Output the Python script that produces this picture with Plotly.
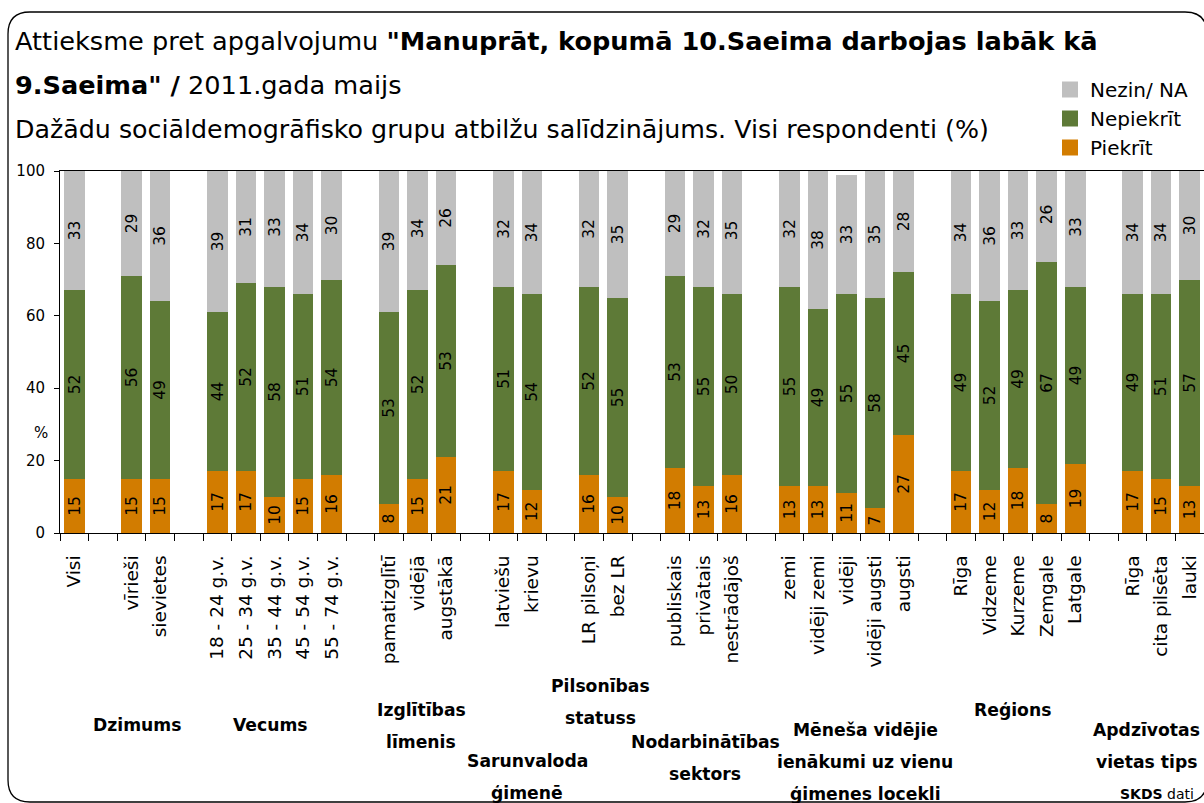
import plotly.graph_objects as go

# ---------------- data ----------------
categories = ["Visi", "", "vīrieši", "sievietes", "",
              "18 - 24 g.v.", "25 - 34 g.v.", "35 - 44 g.v.", "45 - 54 g.v.", "55 - 74 g.v.", "",
              "pamatizglītī", "vidējā", "augstākā", "",
              "latviešu", "krievu", "",
              "LR pilsoņi", "bez LR", "",
              "publiskais", "privātais", "nestrādājoš", "",
              "zemi", "vidēji zemi", "vidēji", "vidēji augsti", "augsti", "",
              "Rīga", "Vidzeme", "Kurzeme", "Zemgale", "Latgale", "",
              "Rīga", "cita pilsēta", "lauki"]

piekrit = [15, None, 15, 15, None, 17, 17, 10, 15, 16, None, 8, 15, 21, None,
           17, 12, None, 16, 10, None, 18, 13, 16, None, 13, 13, 11, 7, 27, None,
           17, 12, 18, 8, 19, None, 17, 15, 13]
nepiekrit = [52, None, 56, 49, None, 44, 52, 58, 51, 54, None, 53, 52, 53, None,
             51, 54, None, 52, 55, None, 53, 55, 50, None, 55, 49, 55, 58, 45, None,
             49, 52, 49, 67, 49, None, 49, 51, 57]
nezin = [33, None, 29, 36, None, 39, 31, 33, 34, 30, None, 39, 34, 26, None,
         32, 34, None, 32, 35, None, 29, 32, 35, None, 32, 38, 33, 35, 28, None,
         34, 36, 33, 26, 33, None, 34, 34, 30]

series_names = ["Piekrīt", "Nepiekrīt", "Nezin/ NA"]
series_colors = ["#D27C00", "#5E7A37", "#BFBFBF"]

group_titles = [["Dzimums"], ["Vecums"], ["Izglītības", "līmenis"], ["Sarunvaloda", "ģimenē"],
                ["Pilsonības", "statuss"], ["Nodarbinātības", "sektors"],
                ["Mēneša vidējie", "ienākumi uz vienu", "ģimenes locekli"],
                ["Reģions"], ["Apdzīvotas", "vietas tips"]]

y_ticks = [0, 20, 40, 60, 80, 100]

title_line1_regular = "Attieksme pret apgalvojumu "
title_line1_bold = "\"Manuprāt, kopumā 10.Saeima darbojas labāk kā"
title_line2_bold = "9.Saeima\" /"
title_line2_regular = " 2011.gada maijs"
title_line3 = "Dažādu sociāldemogrāfisko grupu atbilžu salīdzinājums. Visi respondenti (%)"

# ---------------- layout helpers ----------------
W, H = 1204, 803
FONT = "DejaVu Sans"
def fx(px):
    return px / W
def fy(py):
    return 1 - py / H

PLOT_L, PLOT_R, PLOT_T, PLOT_B = 60, 1204, 171, 533

idx = [i for i, c in enumerate(categories) if c != ""]

fig = go.Figure()
for name, vals, col in zip(series_names, [piekrit, nepiekrit, nezin], series_colors):
    xs = [i for i in idx]
    ys = [vals[i] for i in idx]
    fig.add_trace(go.Bar(
        x=xs, y=ys, name=name, marker=dict(color=col, line=dict(width=0)),
        width=0.72, text=ys, texttemplate="%{text}", textposition="inside",
        insidetextanchor="middle", textangle=-90, constraintext="none",
        textfont=dict(family=FONT, size=15.5, color="#000000"),
        showlegend=False, hoverinfo="skip"))

# legend entries (square markers), top to bottom
for name, col in zip(series_names[::-1], series_colors[::-1]):
    fig.add_trace(go.Scatter(x=[None], y=[None], mode="markers", name=name,
                             marker=dict(symbol="square", size=16, color=col,
                                         line=dict(width=0)),
                             showlegend=True, hoverinfo="skip"))

# invisible trace for boundary-tick axis
fig.add_trace(go.Scatter(x=[None], y=[None], xaxis="x2", showlegend=False,
                         hoverinfo="skip", mode="markers"))

n = len(categories)
fig.update_layout(
    width=W, height=H, autosize=False,
    margin=dict(l=0, r=0, t=0, b=0),
    paper_bgcolor="white", plot_bgcolor="white",
    barmode="stack", bargap=0,
    font=dict(family=FONT, color="#000000"),
    xaxis=dict(domain=[fx(PLOT_L), fx(PLOT_R)], range=[-0.5, n - 0.5],
               tickmode="array", tickvals=list(range(n)), ticktext=categories,
               tickangle=-90, ticks="", ticklabelstandoff=14,
               tickfont=dict(family=FONT, size=18.5, color="#000000"),
               showline=True, linecolor="#000000", linewidth=1, mirror=True,
               showgrid=False, zeroline=False, automargin=False, fixedrange=True),
    xaxis2=dict(domain=[fx(PLOT_L), fx(PLOT_R)], range=[-0.5, n - 0.5], overlaying="x",
                anchor="y", tickmode="array", tickvals=[i - 0.5 for i in range(n + 1)],
                ticks="outside", ticklen=7, tickcolor="#000000", showticklabels=False,
                showline=False, showgrid=False, zeroline=False, automargin=False),
    yaxis=dict(domain=[fy(PLOT_B), fy(PLOT_T)], range=[0, 100],
               tickmode="array", tickvals=y_ticks, ticks="outside", ticklen=5,
               tickcolor="#000000", ticklabelstandoff=6,
               tickfont=dict(family=FONT, size=15, color="#000000"),
               showline=True, linecolor="#000000", linewidth=1,
               showgrid=False, zeroline=False, automargin=False),
    legend=dict(x=fx(1050), y=fy(70), xanchor="left", yanchor="top",
                traceorder="normal", font=dict(family=FONT, size=20, color="#000000"),
                itemwidth=30, bgcolor="rgba(0,0,0,0)", borderwidth=0),
)

ann = []
# title lines
ann.append(dict(text=title_line1_regular + "<b>" + title_line1_bold + "</b>",
                x=fx(13), y=fy(41), xref="paper", yref="paper", xanchor="left",
                yanchor="middle", showarrow=False, font=dict(family=FONT, size=25.6)))
ann.append(dict(text="<b>" + title_line2_bold + "</b>" + title_line2_regular,
                x=fx(13), y=fy(85), xref="paper", yref="paper", xanchor="left",
                yanchor="middle", showarrow=False, font=dict(family=FONT, size=25.6)))
ann.append(dict(text=title_line3,
                x=fx(13), y=fy(130), xref="paper", yref="paper", xanchor="left",
                yanchor="middle", showarrow=False, font=dict(family=FONT, size=25.3)))
# y axis title
ann.append(dict(text="%", x=fx(32), y=fy(433), xref="paper", yref="paper",
                showarrow=False, font=dict(family=FONT, size=15)))
# group labels: (center px, first line py)
group_pos = [(137, 725), (270, 725), (421, 710), (527, 761), (600, 686),
             (705, 742), (865, 730), (1012, 710), (1146, 730)]
LINE = 32
for lines, (cx, cy) in zip(group_titles, group_pos):
    for k, t in enumerate(lines):
        ann.append(dict(text="<b>" + t + "</b>", x=fx(cx), y=fy(cy + k * LINE),
                        xref="paper", yref="paper", xanchor="center", yanchor="middle",
                        showarrow=False, font=dict(family=FONT, size=17.2)))
ann.append(dict(text="<b>SKDS</b> dati", x=fx(1118), y=fy(794), xref="paper", yref="paper",
                xanchor="left", yanchor="middle", showarrow=False,
                font=dict(family=FONT, size=14)))
fig.update_layout(annotations=ann)

# rounded outer border
x0, y0, x1, y1, r = 8, 12, 1207, 802, 22
path = (f"M {fx(x0)},{fy(y0 + r)} Q {fx(x0)},{fy(y0)} {fx(x0 + r)},{fy(y0)} "
        f"L {fx(x1 - r)},{fy(y0)} Q {fx(x1)},{fy(y0)} {fx(x1)},{fy(y0 + r)} "
        f"L {fx(x1)},{fy(y1 - r)} Q {fx(x1)},{fy(y1)} {fx(x1 - r)},{fy(y1)} "
        f"L {fx(x0 + r)},{fy(y1)} Q {fx(x0)},{fy(y1)} {fx(x0)},{fy(y1 - r)} Z")
fig.add_shape(type="path", path=path, xref="paper", yref="paper",
              line=dict(color="#000000", width=1.3), fillcolor="rgba(0,0,0,0)", layer="above")

fig.write_html("out.html", config={"displayModeBar": False},
               post_script="document.body.style.margin='0px';"
                           "document.documentElement.style.overflow='hidden';"
                           "document.body.style.overflow='hidden';")
